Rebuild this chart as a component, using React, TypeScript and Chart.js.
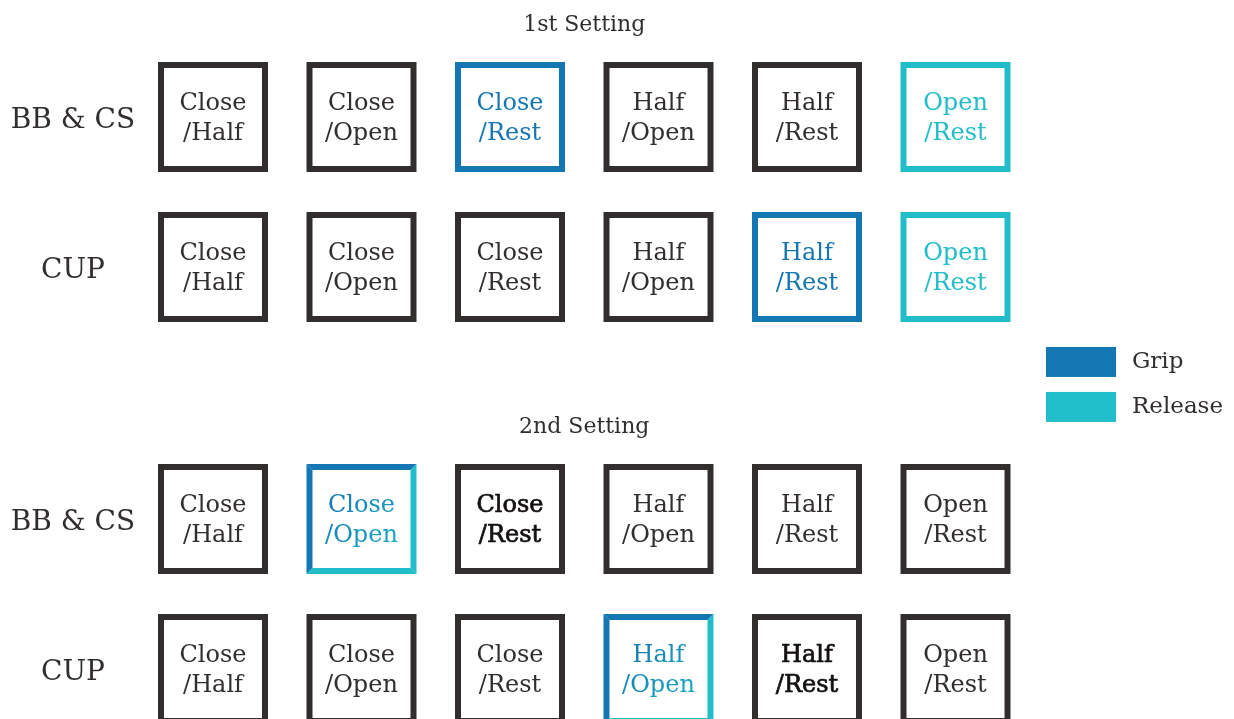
import React, { useEffect, useRef } from "react";
import { Chart, registerables } from "chart.js";

Chart.register(...registerables);

// ---- data ----
const categories = ["Close\n/Half", "Close\n/Open", "Close\n/Rest", "Half\n/Open", "Half\n/Rest", "Open\n/Rest"];
const settings = ["1st Setting", "2nd Setting"];
const devices = ["BB & CS", "CUP"];
const legendLabels = ["Grip", "Release"];
// status per cell: none | grip | release | both | bold
const setting1BB = ["none", "none", "grip", "none", "none", "release"];
const setting1CUP = ["none", "none", "none", "none", "grip", "release"];
const setting2BB = ["none", "both", "bold", "none", "none", "none"];
const setting2CUP = ["none", "none", "none", "both", "bold", "none"];
const statusRows = [
  [setting1BB, setting1CUP],
  [setting2BB, setting2CUP],
];

// ---- style / layout ----
const FONT = "'DejaVu Serif', 'Liberation Serif', serif";
const DARK = "#332e2e";
const BLUE = "#1477b4";
const CYAN = "#21bdca";
const SETTING_GAP = 2.68; // vertical offset (in row units) between the two settings
const BOX = 110;
const BORDER = 6;

export default function App() {
  const ref = useRef<HTMLCanvasElement | null>(null);

  useEffect(() => {
    document.body.style.margin = "0";
    const canvas = ref.current!;
    const points: any[] = [];
    statusRows.forEach((rows, s) => {
      rows.forEach((row, d) => {
        row.forEach((st, c) => {
          points.push({ x: c, y: s * SETTING_GAP + d, status: st, label: categories[c] });
        });
      });
    });

    const gridPlugin = {
      id: "gridBoxes",
      afterDatasetsDraw(chart: any) {
        const ctx: CanvasRenderingContext2D = chart.ctx;
        const xs = chart.scales.x;
        const ys = chart.scales.y;
        const meta = chart.getDatasetMeta(0);
        ctx.save();

        meta.data.forEach((el: any, i: number) => {
          const p = points[i];
          const cx = el.x;
          const cy = el.y;
          const x0 = cx - BOX / 2, y0 = cy - BOX / 2, x1 = cx + BOX / 2, y1 = cy + BOX / 2;
          const ix0 = x0 + BORDER, iy0 = y0 + BORDER, ix1 = x1 - BORDER, iy1 = y1 - BORDER;
          let textColor: any = DARK;
          let bold = false;
          const poly = (pts: number[][], color: string) => {
            ctx.beginPath();
            ctx.moveTo(pts[0][0], pts[0][1]);
            for (let k = 1; k < pts.length; k++) ctx.lineTo(pts[k][0], pts[k][1]);
            ctx.closePath();
            ctx.fillStyle = color;
            ctx.fill();
          };
          if (p.status === "both") {
            poly([[x0, y0], [x1, y0], [ix1, iy0], [ix0, iy0]], BLUE);
            poly([[x0, y0], [ix0, iy0], [ix0, iy1], [x0, y1]], BLUE);
            poly([[x1, y0], [x1, y1], [ix1, iy1], [ix1, iy0]], CYAN);
            poly([[x0, y1], [ix0, iy1], [ix1, iy1], [x1, y1]], CYAN);
            const g = ctx.createLinearGradient(x0, y0, x1, y1);
            g.addColorStop(0.25, BLUE);
            g.addColorStop(0.95, CYAN);
            textColor = g;
          } else {
            const col = p.status === "grip" ? BLUE : p.status === "release" ? CYAN : DARK;
            ctx.strokeStyle = col;
            ctx.lineWidth = BORDER;
            ctx.strokeRect(x0 + BORDER / 2, y0 + BORDER / 2, BOX - BORDER, BOX - BORDER);
            textColor = p.status === "bold" ? "#141010" : col;
            bold = p.status === "bold";
          }
          const lines = p.label.split("\n");
          ctx.font = `24px ${FONT}`;
          ctx.textAlign = "center";
          ctx.textBaseline = "alphabetic";
          ctx.fillStyle = textColor;
          const bases = [cy - 7, cy + 23];
          lines.forEach((ln: string, k: number) => {
            ctx.fillText(ln, cx, bases[k]);
            if (bold) {
              ctx.strokeStyle = "#141010";
              ctx.lineWidth = 0.7;
              ctx.strokeText(ln, cx, bases[k]);
            }
          });
        });

        // row labels
        ctx.fillStyle = DARK;
        ctx.textAlign = "center";
        ctx.textBaseline = "alphabetic";
        ctx.font = `28px ${FONT}`;
        settings.forEach((_, s) => {
          devices.forEach((dev, d) => {
            const px = xs.getPixelForValue(-0.943);
            const py = ys.getPixelForValue(s * SETTING_GAP + d);
            ctx.fillText(dev, px, py + 11);
          });
        });

        // setting titles
        ctx.font = `22px ${FONT}`;
        settings.forEach((t, s) => {
          const px = xs.getPixelForValue((categories.length - 1) / 2);
          const py = ys.getPixelForValue(s * SETTING_GAP - 0.627);
          ctx.fillText(t, px, py + 8);
        });

        // legend
        const lx = xs.getPixelForValue(5.6094);
        const ly = ys.getPixelForValue(1.633);
        ctx.font = `23px ${FONT}`;
        ctx.textAlign = "left";
        [BLUE, CYAN].forEach((c, k) => {
          const y = ly + k * 45;
          ctx.fillStyle = c;
          ctx.fillRect(lx, y - 15, 70, 30);
          ctx.fillStyle = DARK;
          ctx.fillText(legendLabels[k], lx + 86, y + 6);
        });

        ctx.restore();
      },
    };

    const chart = new Chart(canvas, {
      type: "scatter",
      data: {
        datasets: [
          {
            data: points.map((p) => ({ x: p.x, y: p.y })),
            pointRadius: 0,
            pointHoverRadius: 0,
          },
        ],
      },
      options: {
        responsive: false,
        animation: false,
        layout: { padding: 0 },
        plugins: { legend: { display: false }, tooltip: { enabled: false } },
        scales: {
          x: { type: "linear", display: false, min: -213 / 148.5, max: (1234 - 213) / 148.5 },
          y: { type: "linear", display: false, reverse: true, min: -117 / 150, max: (719 - 117) / 150 },
        },
      },
      plugins: [gridPlugin],
    });
    return () => chart.destroy();
  }, []);

  return (
    <div style={{ position: "fixed", left: 0, top: 0, width: 1234, height: 719, background: "#fff" }}>
      <canvas ref={ref} width={1234} height={719} />
    </div>
  );
}
